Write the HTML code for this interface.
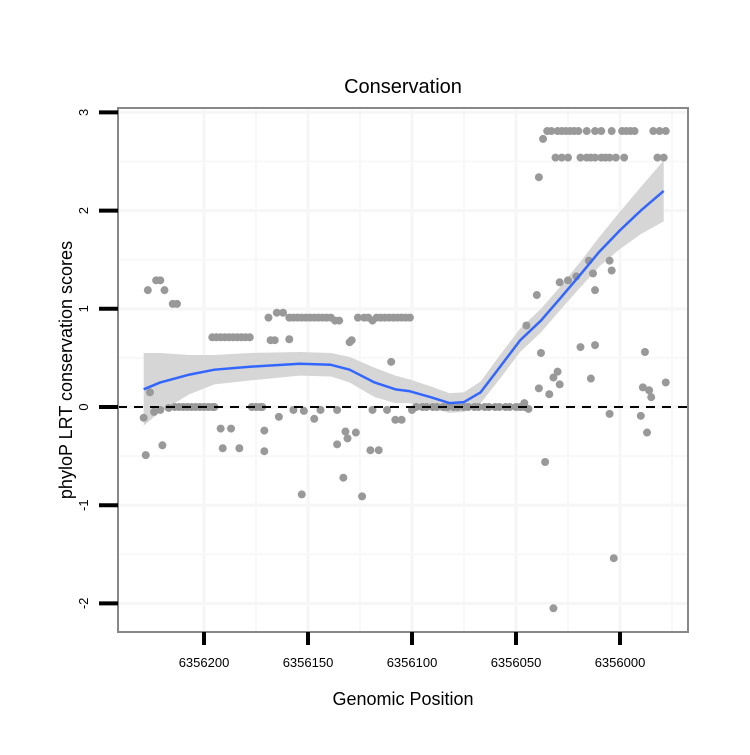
<!DOCTYPE html>
<html><head><meta charset="utf-8"><style>
body{margin:0;background:#fff;font-family:"Liberation Sans",sans-serif}
</style></head><body>
<svg id="chart" width="750" height="750" xmlns="http://www.w3.org/2000/svg" font-family="Liberation Sans, sans-serif">
<rect width="750" height="750" fill="#fff"/>
<g id="grid"></g>
<g id="ribbon-g"></g>
<g id="points"></g>
<line x1="118" x2="688" y1="407" y2="407" stroke="#000" stroke-width="2" stroke-dasharray="9,7"/>
<g id="line-g"></g>
<rect x="118" y="108" width="570" height="524" fill="none" stroke="#888" stroke-width="2"/>
<g id="axes"></g>
<text x="403" y="93" font-size="20" text-anchor="middle">Conservation</text>
<text x="403" y="705" font-size="18" text-anchor="middle">Genomic Position</text>
<text transform="translate(72,370) rotate(-90)" font-size="18" text-anchor="middle">phyloP LRT conservation scores</text>
</svg>
<script>
const xTicks=[6356200,6356150,6356100,6356050,6356000];
const xMinor=[6356175,6356125,6356075,6356025,6355975];
const yTicks=[3,2,1,0,-1,-2];
const yMinor=[2.5,1.5,0.5,-0.5,-1.5];
const ptPos=[6356229,6356228,6356227,6356226,6356223,6356221,6356219,6356215,6356213,6356220,6356224,6356221,6356217,
6356214,6356212,6356210,6356208,6356206,6356204,6356202,6356200,6356198,6356196,6356195,
6356196,6356194,6356192,6356190,6356188,6356186,6356184,6356182,6356180,6356178,
6356192,6356191,6356187,6356183,6356177,6356175,6356173,6356172,6356171,6356171,
6356169,6356168,6356166,6356165,6356162,6356159,6356157,6356155,6356153,6356151,6356149,6356147,6356145,6356143,6356141,6356139,6356137,6356135,6356159,
6356164,6356157,6356152,6356147,6356144,6356136,6356153,6356133,6356124,6356136,6356132,6356131,6356127,6356120,6356116,6356110,6356129,6356130,
6356126,6356123,6356121,6356119,6356117,6356115,6356113,6356111,6356109,6356107,6356105,6356103,6356101,
6356119,6356112,6356108,6356105,6356100,
6356098,6356095,6356093,6356090,6356088,6356085,6356083,6356080,6356078,6356075,6356073,6356070,6356068,6356065,6356063,6356060,6356058,6356055,6356053,6356050,6356048,6356046,
6356035,6356033,6356030,6356028,6356026,6356024,6356022,6356020,6356016,6356012,6356009,6356004,6355999,6355997,6355995,6355993,6355984,6355981,6355978,
6356037,6356039,
6356031,6356028,6356025,6356019,6356016,6356014,6356012,6356009,6356007,6356005,6356002,6355998,6355982,6355979,
6356040,6356045,6356038,6356029,6356025,6356021,6356015,6356013,6356012,6356005,6356004,6356019,6356012,6355988,
6356039,6356034,6356032,6356030,6356029,6356014,6355989,6355986,6355985,6355978,6356005,6355990,6355987,6356046,6356044,6356036,6356032,6356003];
const ptScore=[-0.11,-0.49,1.19,0.15,1.29,1.29,1.19,1.05,1.05,-0.39,-0.05,-0.03,-0.01,
0,0,0,0,0,0,0,0,0,0,0,
0.71,0.71,0.71,0.71,0.71,0.71,0.71,0.71,0.71,0.71,
-0.22,-0.42,-0.22,-0.42,0,0,0,0,-0.24,-0.45,
0.91,0.68,0.68,0.96,0.96,0.91,0.91,0.91,0.91,0.91,0.91,0.91,0.91,0.91,0.91,0.91,0.88,0.88,0.69,
-0.1,-0.03,-0.04,-0.12,-0.03,-0.03,-0.89,-0.72,-0.91,-0.38,-0.25,-0.32,-0.26,-0.44,-0.44,0.46,0.68,0.66,
0.91,0.91,0.91,0.88,0.91,0.91,0.91,0.91,0.91,0.91,0.91,0.91,0.91,
-0.03,-0.03,-0.13,-0.13,-0.03,
0,0,0,0,0,0,0,0,0,0,0,0,0,0,0,0,0,0,0,0,0,0,
2.81,2.81,2.81,2.81,2.81,2.81,2.81,2.81,2.81,2.81,2.81,2.81,2.81,2.81,2.81,2.81,2.81,2.81,2.81,
2.73,2.34,
2.54,2.54,2.54,2.54,2.54,2.54,2.54,2.54,2.54,2.54,2.54,2.54,2.54,2.54,
1.14,0.83,0.55,1.27,1.29,1.33,1.49,1.36,1.19,1.49,1.39,0.61,0.63,0.56,
0.19,0.13,0.30,0.36,0.23,0.29,0.20,0.17,0.10,0.25,-0.07,-0.09,-0.26,0.04,-0.02,-0.56,-2.05,-1.54];
const fitPos=[6356229,6356221,6356207,6356195,6356178,6356154,6356139,6356130,6356118,6356108,6356101,6356091,6356082,6356075,6356067,6356058,6356048,6356038,6356029,6356019,6356010,6356000,6355990,6355979];
const fitVal=[0.18,0.25,0.33,0.38,0.41,0.44,0.43,0.38,0.25,0.18,0.16,0.10,0.04,0.05,0.15,0.40,0.68,0.88,1.10,1.35,1.58,1.80,2.00,2.20];
const fitSe=[0.37,0.3,0.2,0.15,0.14,0.12,0.12,0.13,0.15,0.14,0.12,0.11,0.1,0.1,0.11,0.12,0.12,0.12,0.12,0.13,0.15,0.19,0.24,0.31];
const NS='http://www.w3.org/2000/svg';
const X=p=>204+(6356200-p)*2.08;
const Y=v=>407-v*98.2;
function mk(t,a,par){const e=document.createElementNS(NS,t);for(const k in a)e.setAttribute(k,a[k]);document.getElementById(par).appendChild(e);return e;}
xMinor.forEach(p=>{const e=mk('line',{x1:X(p),x2:X(p),y1:108,y2:632,stroke:'#f8f8f8','stroke-width':2},'grid');

});
xTicks.forEach(p=>{const e=mk('line',{x1:X(p),x2:X(p),y1:108,y2:632,stroke:'#f6f6f6','stroke-width':3},'grid');

});
yMinor.forEach(v=>{const e=mk('line',{x1:118,x2:688,y1:Y(v),y2:Y(v),stroke:'#f8f8f8','stroke-width':2},'grid');

});
yTicks.forEach(v=>{const e=mk('line',{x1:118,x2:688,y1:Y(v),y2:Y(v),stroke:'#f6f6f6','stroke-width':3},'grid');

});
let up=fitPos.map((p,i)=>X(p)+','+Y(fitVal[i]+fitSe[i]));
let lo=fitPos.map((p,i)=>X(p)+','+Y(fitVal[i]-fitSe[i])).reverse();
const rb=mk('polygon',{points:up.concat(lo).join(' '),fill:'#d6d6d6'},'ribbon-g');


ptPos.forEach((p,i)=>{const c=mk('circle',{cx:X(p),cy:Y(ptScore[i]),r:4,fill:'#999'},'points');

});
const ln=mk('polyline',{points:fitPos.map((p,i)=>X(p)+','+Y(fitVal[i])).join(' '),fill:'none',stroke:'#3366ff','stroke-width':2.5,'stroke-linejoin':'round'},'line-g');


xTicks.forEach(p=>{const t=mk('line',{x1:X(p),x2:X(p),y1:632,y2:645,stroke:'#000','stroke-width':4},'axes');


const l=mk('text',{x:X(p),y:667,'font-size':13,'text-anchor':'middle'},'axes');l.textContent=p;

});
yTicks.forEach(v=>{const t=mk('line',{x1:99,x2:118,y1:Y(v),y2:Y(v),stroke:'#000','stroke-width':4},'axes');


const l=mk('text',{transform:`translate(88,${Y(v)}) rotate(-90)`,'font-size':13,'text-anchor':'middle'},'axes');l.textContent=v;

});
</script>
</body></html>
